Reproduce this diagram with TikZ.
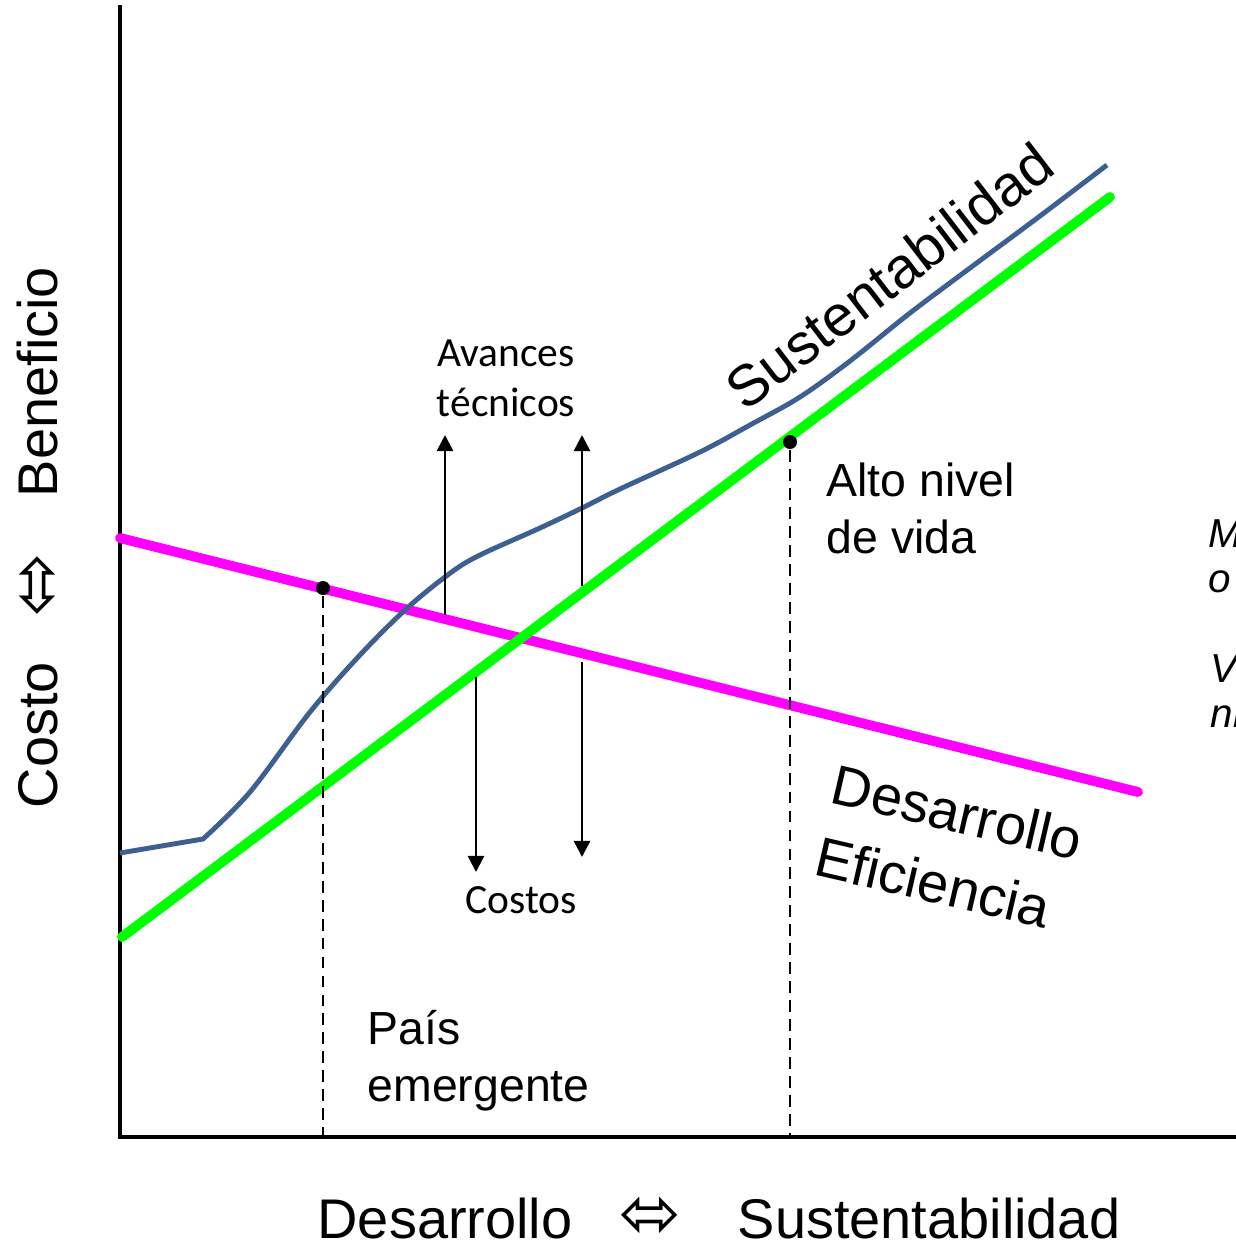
\documentclass[tikz,border=0pt]{standalone}
\usepackage{fontspec}
\setmainfont{Liberation Sans}
\newfontfamily\calibri{Carlito}
\newfontfamily\symfont{DejaVu Sans}
\usetikzlibrary{arrows.meta}
\definecolor{sustblue}{RGB}{62,96,144}
\definecolor{effmag}{RGB}{255,0,255}
\definecolor{devgreen}{RGB}{0,255,0}
\tikzset{
	axis/.style={color=black, line width=0.9pt},
	effline/.style={color=effmag, line width=2.8pt, line cap=round},
	devline/.style={color=devgreen, line width=2.8pt, line cap=round},
	sustline/.style={color=sustblue, line width=1.4pt, line join=round},
	guide/.style={color=black, line width=0.3pt, dash pattern=on 3.4pt off 2pt},
	dotpt/.style={circle, fill=black, inner sep=0pt, minimum size=0.14cm},
	diredge/.style={-{Triangle[width=4.6pt,length=4.6pt]}, color=black, line width=0.7pt},
	biglabel/.style={font=\fontsize{15.9}{21}\selectfont, inner sep=0pt},
	arrsym/.style={font=\symfont\fontsize{21}{24}\selectfont, inner sep=0pt},
	midlabel/.style={font=\fontsize{13.2}{16.2}\selectfont, inner sep=0pt, align=left},
	smalllabel/.style={font=\calibri\fontsize{11.8}{14.2}\selectfont, inner sep=0pt, align=center},
	cutlabel/.style={font=\itshape\fontsize{11.5}{12.8}\selectfont, inner sep=0pt, align=left, anchor=west}
}
\begin{document}
\begin{tikzpicture}[x=0.01cm, y=-0.01cm]
	\useasboundingbox (0,0) rectangle (1235,1242);
	
	%%%% axes
	\coordinate (o) at (120,1137);
	\coordinate (ytop) at (120,5);
	\coordinate (xend) at (1240,1137);
	\draw[axis] (ytop) -- (o) -- (xend);
	
	%%%% lines
	\coordinate (e1) at (120,538);
	\coordinate (e2) at (1138,792);
	\coordinate (d1) at (122,937);
	\coordinate (d2) at (1110,197);
	\draw[effline] (e1) -- (e2);
	\draw[devline] (d1) -- (d2);
	
	%%%% sustentabilidad curve
	\coordinate (s0) at (120,853);
	\draw[sustline] (s0) -- plot[smooth, tension=0.55] coordinates {(203,839) (250,792) (310,712) (360,655) (405,610) (445,577) (476,557) (540,528) (582,508) (620,489) (700,452) (750,425) (800,397) (850,361) (910,313) (970,268) (1040,216) (1107,165)};
	
	%%%% points and guides
	\node[dotpt] (p1) at (323,588) {};
	\node[dotpt] (p2) at (790,442) {};
	\coordinate (g1) at (323,1137);
	\coordinate (g2) at (790,1137);
	\draw[guide] (p1) -- (g1);
	\draw[guide] (p2) -- (g2);
	
	%%%% technical advances and costs
	\coordinate (a1) at (445,615);
	\coordinate (a1t) at (445,435);
	\coordinate (a2) at (582,586);
	\coordinate (a2t) at (582,435);
	\coordinate (c1) at (476,677);
	\coordinate (c1t) at (476,872);
	\coordinate (c2) at (582,662);
	\coordinate (c2t) at (582,857);
	\draw[diredge] (a1) -- (a1t);
	\draw[diredge] (a2) -- (a2t);
	\draw[diredge] (c1) -- (c1t);
	\draw[diredge] (c2) -- (c2t);
	\node[smalllabel] (avances) at (506,378) {Avances\\técnicos};
	\node[smalllabel] (costos) at (521,900) {Costos};
	
	%%%% labels
	\node[midlabel, anchor=west] (alto) at (826,508) {Alto nivel\\de vida};
	\node[midlabel, anchor=west] (pais) at (367,1061) {País\\emergente};
	\node[biglabel, font=\fontsize{16.4}{20}\selectfont, rotate=37.5] (sust) at (889,276) {Sustentabilidad};
	\node[biglabel, align=left, rotate=-13] (desef) at (949,848) {Desarrollo\\Eficiencia};
	
	%%%% axis labels
	\node[biglabel, rotate=90] (costo) at (38,735) {Costo};
	\node[arrsym] (yarr) at (37,586) {⇳};
	\node[biglabel, rotate=90] (benef) at (38,382) {Beneficio};
	\node[biglabel] (xdes) at (445,1218) {Desarrollo};
	\node[arrsym] (xarr) at (650,1218) {⬄};
	\node[biglabel] (xsust) at (929,1218) {Sustentabilidad};
	
	%%%% cut off at the right edge
	\node[cutlabel] (m1) at (1208,556) {M\\o};
	\node[cutlabel] (m2) at (1210,690) {Vi\\ni};
\end{tikzpicture}
\end{document}
